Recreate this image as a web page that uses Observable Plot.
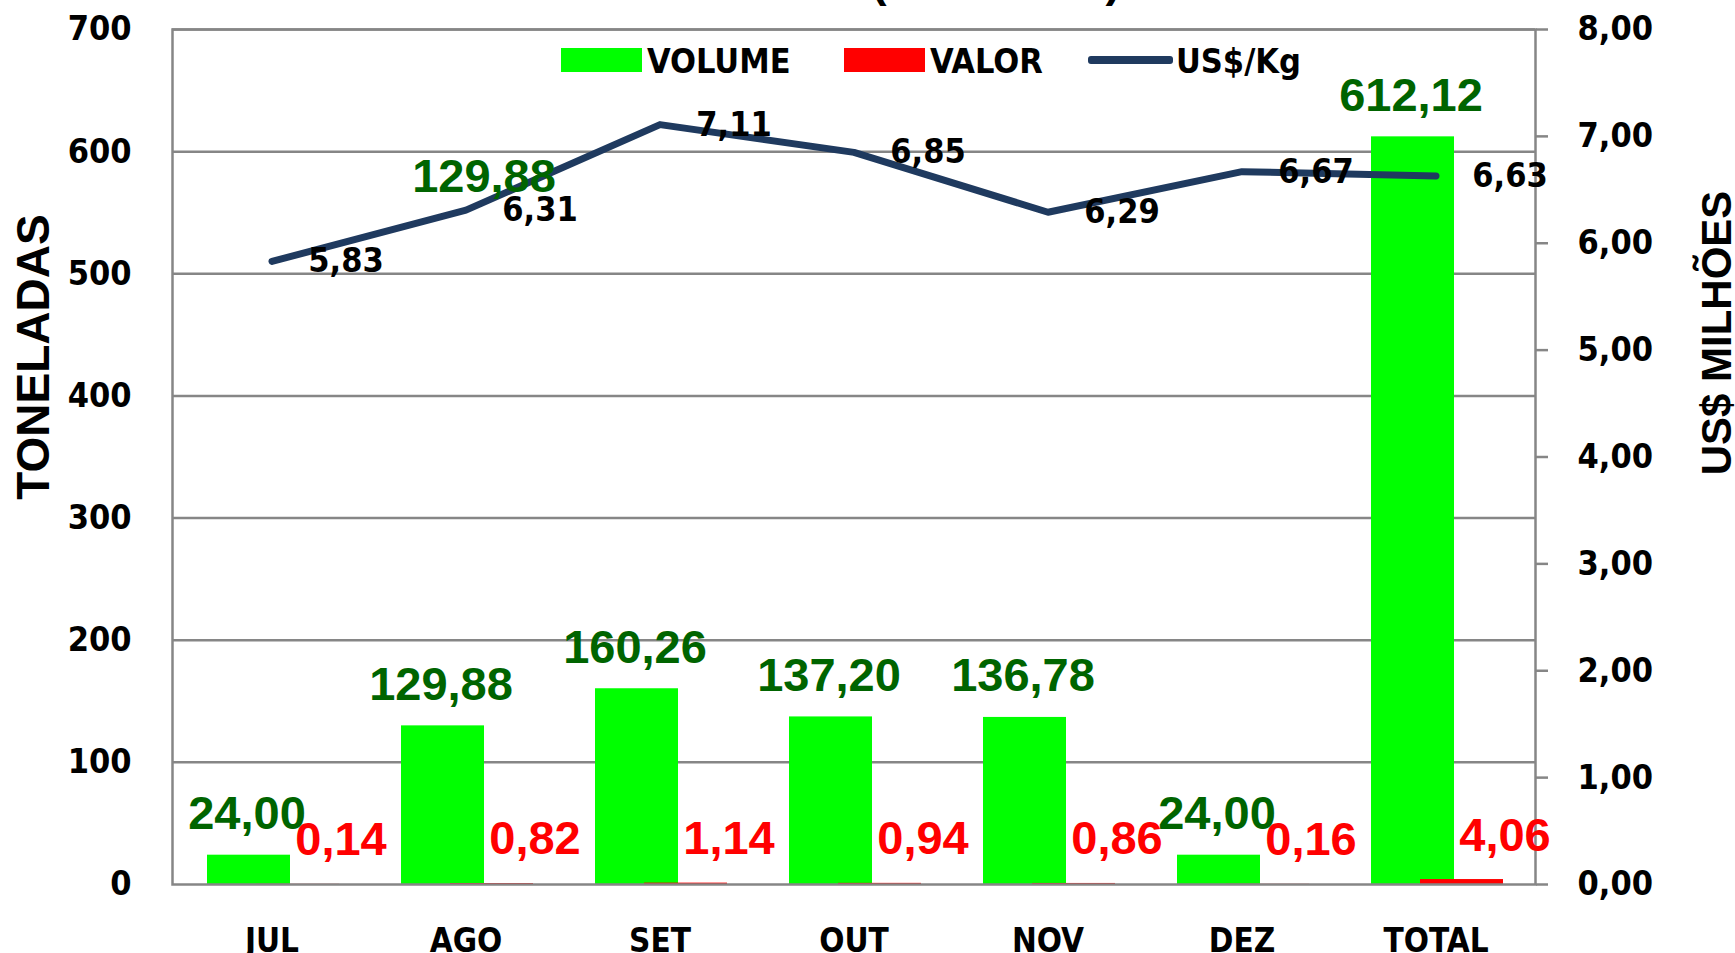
<!DOCTYPE html>
<html>
<head>
<meta charset="utf-8">
<script src="https://cdn.jsdelivr.net/npm/d3@7"></script>
<script src="https://cdn.jsdelivr.net/npm/@observablehq/plot@0.6"></script>
<style>
  html, body { margin: 0; padding: 0; background: #fff; width: 1735px; height: 953px; overflow: hidden; }
  #wrap { position: relative; width: 1735px; height: 953px; }
  #title { position: absolute; left: 696px; width: 600px; top: -43px; text-align: center;
           font: bold 46px "Liberation Sans", Arial, sans-serif; line-height: 46px; white-space: pre; color: #000; }
  .sw { position: absolute; }
  .lt { position: absolute; top: 44px; font: bold 34px "DejaVu Sans Condensed", "DejaVu Sans", sans-serif;
        font-stretch: condensed; line-height: 34px; color: #000; white-space: nowrap; }
  #chart { position: absolute; left: 0; top: 0; }
</style>
</head>
<body>
<div id="wrap">
  <div id="chart"></div>
  <div id="title">(JUL - DEZ)</div>
  <div id="legend"></div>
</div>
<script>
// ---- data ----
const meses = ["JUL", "AGO", "SET", "OUT", "NOV", "DEZ", "TOTAL"];
const volume = [24.00, 129.88, 160.26, 137.20, 136.78, 24.00, 612.12];   // TONELADAS
const valor = [0.14, 0.82, 1.14, 0.94, 0.86, 0.16, 4.06];                // US$ MILHÕES
const precoKg = [5.83, 6.31, 7.11, 6.85, 6.29, 6.67, 6.63];              // US$/Kg
const leftTicks = [0, 100, 200, 300, 400, 500, 600, 700];
const rightTicks = [0, 1, 2, 3, 4, 5, 6, 7, 8];
const legendLabels = ["VOLUME", "VALOR", "US$/Kg"];
const axisTitleLeft = "TONELADAS";
const axisTitleRight = "US$ MILHÕES";

// ---- build ----
const data = meses.map((m, i) => ({mes: m, volume: volume[i], valor: valor[i], preco: precoKg[i]}));
const K = 700 / 8; // right axis (0-8) expressed in left-axis units (0-700)
const fmt = v => v.toFixed(2).replace(".", ",");
const FC = '"DejaVu Sans Condensed","DejaVu Sans",sans-serif';
const FA = '"Liberation Sans",Arial,sans-serif';
const GRID = "#868686";
const GREEN = "#00FF00", RED = "#FF0000", NAVY = "#1F3A5F", DKGREEN = "#006400";

const chart = Plot.plot({
  width: 1735,
  height: 953,
  marginLeft: 172,
  marginRight: 200,
  marginTop: 29,
  marginBottom: 69,
  style: {background: "#fff", overflow: "visible"},
  x: {domain: meses, type: "band", paddingInner: 0.574, paddingOuter: 0.287, label: null},
  y: {domain: [0, 700], label: null},
  marks: [
    Plot.gridY(leftTicks.filter(t => t > 0), {stroke: GRID, strokeOpacity: 1, strokeWidth: 2.5}),
    Plot.barY(data, {x: "mes", y: "volume", fill: GREEN, dx: -23}),
    Plot.barY(data, {x: "mes", y: "valor", fill: RED, dx: 26}),
    Plot.frame({stroke: GRID, strokeWidth: 2.5}),
    Plot.line(data, {x: "mes", y: d => d.preco * K, stroke: NAVY, strokeWidth: 7, strokeLinejoin: "round"}),
    Plot.axisY(leftTicks, {anchor: "left", tickSize: 0, tickPadding: 41, fontSize: 34, fontWeight: "bold",
      fontFamily: FC, fill: "#000", label: null, tickFormat: d => String(d)}),
    Plot.axisY(rightTicks.map(t => t * K), {anchor: "right", tickSize: 12, tickPadding: 30, stroke: GRID,
      strokeWidth: 2.5, fontSize: 34, fontWeight: "bold", fontFamily: FC, fill: "#000", label: null,
      tickFormat: d => fmt(d / K)}),
    Plot.axisX({tickSize: 0, tickPadding: 44, fontSize: 33, fontWeight: "bold", fontFamily: FC, fill: "#000", label: null}),
    // value labels
    Plot.text(data, {x: "mes", y: "volume", text: d => fmt(d.volume), dx: -25, dy: -26, lineAnchor: "bottom",
      fill: DKGREEN, fontSize: 47, fontWeight: "bold", fontFamily: FA}),
    Plot.text(data, {x: "mes", y: "valor", text: d => fmt(d.valor), dx: 69, dy: -29, lineAnchor: "bottom",
      fill: RED, fontSize: 47, fontWeight: "bold", fontFamily: FA}),
    Plot.text(data, {x: "mes", y: d => d.preco * K, text: d => fmt(d.preco), dx: 74, lineAnchor: "middle",
      fill: "#000", fontSize: 34, fontWeight: "bold", fontFamily: FC}),
    // stray duplicate volume label near the line at AGO
    Plot.text(data.filter(d => d.mes === "AGO"), {x: "mes", y: d => d.preco * K, text: d => fmt(d.volume),
      dx: 18, dy: -18, lineAnchor: "bottom", fill: DKGREEN, fontSize: 47, fontWeight: "bold", fontFamily: FA}),
    // axis titles
    Plot.text([axisTitleLeft], {frameAnchor: "left", text: d => d, rotate: -90, textAnchor: "middle",
      lineAnchor: "middle", dx: -138, dy: -100, fontSize: 46, fontWeight: "bold", fontFamily: FA, fill: "#000"}),
    Plot.text([axisTitleRight], {frameAnchor: "right", text: d => d, rotate: -90, textAnchor: "middle",
      lineAnchor: "middle", dx: 182, dy: -124, fontSize: 42, fontWeight: "bold", fontFamily: FA, fill: "#000"})
  ]
});
document.getElementById("chart").appendChild(chart);

// ---- legend (HTML overlay) ----
const legend = document.getElementById("legend");
const legendItems = [
  {label: legendLabels[0], kind: "rect", color: GREEN, sx: 561, tx: 647},
  {label: legendLabels[1], kind: "rect", color: RED, sx: 844, tx: 930},
  {label: legendLabels[2], kind: "line", color: NAVY, sx: 1088, tx: 1176}
];
for (const it of legendItems) {
  const s = document.createElement("div");
  s.className = "sw";
  s.style.left = it.sx + "px";
  s.style.background = it.color;
  if (it.kind === "rect") { s.style.top = "48px"; s.style.width = "81px"; s.style.height = "24px"; }
  else { s.style.top = "56px"; s.style.width = "85px"; s.style.height = "8px"; s.style.borderRadius = "3px"; }
  legend.appendChild(s);
  const t = document.createElement("div");
  t.className = "lt";
  t.style.left = it.tx + "px";
  t.textContent = it.label;
  legend.appendChild(t);
}
</script>
</body>
</html>
